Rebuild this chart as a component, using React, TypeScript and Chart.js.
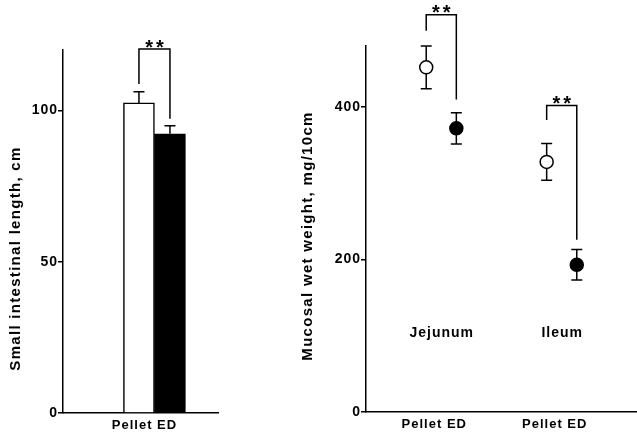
import React, { useEffect, useRef } from 'react';
import { Chart, registerables } from 'chart.js';

Chart.register(...registerables);

// ---------- data: left panel (small intestinal length) ----------
const dietGroups = ['Pellet', 'ED'];
const intestinalLength = [102.5, 92.3];
const intestinalLengthSem = [3.7, 2.7];
const lengthTicks = [0, 50, 100];
// significance bracket: [top, left leg end, right leg end] (cm)
const lengthBracket = [120.3, 108.8, 97.3];

// ---------- data: right panel (mucosal wet weight) ----------
const segments = ['Jejunum', 'Ileum'];
const pelletMucosalWeight = [452, 328];
const pelletMucosalSem = [28, 24];
const edMucosalWeight = [372, 193];
const edMucosalSem = [20.5, 20];
const mucosalTicks = [0, 200, 400];
// brackets per segment: [top, left leg end, right leg end] (mg/10cm)
const jejunumBracket = [521, 500, 410];
const ileumBracket = [402, 383, 226];
const segmentBrackets = [jejunumBracket, ileumBracket];
const segmentLabelLevel = 103;

const FONT = '"Liberation Sans", Arial, Helvetica, sans-serif';
const tickFont = { family: FONT, size: 14, weight: 'bold' as const };

function spacingPlugin(spacing: string) {
  return {
    id: 'letterSpacing',
    afterInit(chart: any) { chart.ctx.letterSpacing = spacing; },
    beforeUpdate(chart: any) { chart.ctx.letterSpacing = spacing; },
    beforeDraw(chart: any) { chart.ctx.letterSpacing = spacing; },
  };
}

function yTitlePlugin(text: string, cx: number, cy: number) {
  return {
    id: 'yTitle',
    afterDraw(chart: any) {
      const ctx = chart.ctx;
      ctx.save();
      ctx.letterSpacing = '1.3px';
      ctx.translate(cx, cy);
      ctx.rotate(-Math.PI / 2);
      ctx.font = `bold 15px ${FONT}`;
      ctx.fillStyle = '#000';
      ctx.textAlign = 'center';
      ctx.textBaseline = 'middle';
      ctx.fillText(text, 0, 0);
      ctx.restore();
    },
  };
}

function drawBracket(chart: any, x1v: number, x2v: number, b: number[]) {
  const { ctx } = chart;
  const xs = chart.scales.x;
  const ys = chart.scales.y;
  const x1 = xs.getPixelForValue(x1v);
  const x2 = xs.getPixelForValue(x2v);
  const top = ys.getPixelForValue(b[0]);
  const l = ys.getPixelForValue(b[1]);
  const r = ys.getPixelForValue(b[2]);
  ctx.save();
  ctx.strokeStyle = '#000';
  ctx.lineWidth = 1.5;
  ctx.beginPath();
  ctx.moveTo(x1, l);
  ctx.lineTo(x1, top);
  ctx.lineTo(x2, top);
  ctx.lineTo(x2, r);
  ctx.stroke();
  ctx.letterSpacing = '3px';
  ctx.font = `bold 20px ${FONT}`;
  ctx.fillStyle = '#000';
  ctx.textAlign = 'center';
  ctx.textBaseline = 'alphabetic';
  ctx.fillText('**', (x1 + x2) / 2 + 1.5, top + 4.5);
  ctx.restore();
}

function errorBarPlugin(errors: number[][], upOnly: boolean, cap: number) {
  return {
    id: 'errorBars',
    beforeDatasetsDraw(chart: any) {
      const { ctx } = chart;
      const ys = chart.scales.y;
      chart.data.datasets.forEach((ds: any, di: number) => {
        const meta = chart.getDatasetMeta(di);
        const errs = errors[di];
        if (!errs) return;
        meta.data.forEach((el: any, i: number) => {
          const v = ds.data[i].y;
          const e = errs[i];
          const x = el.x;
          const yT = ys.getPixelForValue(v + e);
          const yB = ys.getPixelForValue(upOnly ? v : v - e);
          ctx.save();
          ctx.strokeStyle = '#000';
          ctx.lineWidth = 1.5;
          ctx.beginPath();
          ctx.moveTo(x, yT);
          ctx.lineTo(x, yB);
          ctx.moveTo(x - cap, yT);
          ctx.lineTo(x + cap, yT);
          if (!upOnly) {
            ctx.moveTo(x - cap, yB);
            ctx.lineTo(x + cap, yB);
          }
          ctx.stroke();
          ctx.restore();
        });
      });
    },
  };
}

function LengthChart() {
  const ref = useRef<HTMLCanvasElement>(null);
  useEffect(() => {
    if (!ref.current) return;
    const barX = dietGroups.map((_, i) => 2 + i);
    const chart = new Chart(ref.current, {
      type: 'bar',
      data: {
        datasets: [
          {
            label: 'Small intestinal length',
            data: dietGroups.map((_, i) => ({ x: barX[i], y: intestinalLength[i] })),
            backgroundColor: ['#ffffff', '#000000'],
            borderColor: '#000',
            borderWidth: 1.5,
            borderSkipped: 'bottom',
            barThickness: 31,
          } as any,
        ],
      },
      options: {
        responsive: false,
        maintainAspectRatio: false,
        animation: false,
        layout: { autoPadding: false, padding: { left: 0, top: 50, right: 22, bottom: 0 } },
        plugins: { legend: { display: false }, tooltip: { enabled: false } },
        scales: {
          x: {
            type: 'linear',
            offset: false,
            min: -0.45,
            max: 4.55,
            grid: { display: false, drawTicks: false },
            border: { display: true, color: '#000', width: 1.5 },
            ticks: {
              padding: 5,
              labelOffset: -10,
              autoSkip: false,
              maxRotation: 0,
              color: '#000',
              font: { family: FONT, size: 13, weight: 'bold' },
              callback: () => dietGroups.join(' '),
            },
            afterBuildTicks: (s: any) => {
              s.ticks = [{ value: (barX[0] + barX[barX.length - 1]) / 2 }];
            },
            afterFit: (s: any) => { s.height = 23; },
          },
          y: {
            min: 0,
            max: 120,
            grid: { drawOnChartArea: false, drawTicks: true, tickLength: 5, color: '#000', lineWidth: 1.5 },
            border: { display: true, color: '#000', width: 1.5 },
            ticks: { padding: 0, color: '#000', font: tickFont },
            afterBuildTicks: (s: any) => { s.ticks = lengthTicks.map((v) => ({ value: v })); },
            afterFit: (s: any) => { s.width = 63; },
          },
        },
      } as any,
      plugins: [
        spacingPlugin('1px'),
        errorBarPlugin([intestinalLengthSem], true, 5.5),
        {
          id: 'brackets',
          afterDatasetsDraw(c: any) { drawBracket(c, barX[0], barX[1], lengthBracket); },
        },
        yTitlePlugin('Small intestinal length, cm', 15.5, 258.5),
      ],
    });
    return () => chart.destroy();
  }, []);
  return (
    <canvas ref={ref} width={240} height={436} style={{ position: 'absolute', left: 0, top: 0 }} />
  );
}

function MucosaChart() {
  const ref = useRef<HTMLCanvasElement>(null);
  useEffect(() => {
    if (!ref.current) return;
    const pelletX = segments.map((_, i) => 2 + 4 * i);
    const edX = segments.map((_, i) => 3 + 4 * i);
    const centers = segments.map((_, i) => (pelletX[i] + edX[i]) / 2);
    const chart = new Chart(ref.current, {
      type: 'scatter',
      data: {
        datasets: [
          {
            label: 'Pellet',
            data: segments.map((_, i) => ({ x: pelletX[i], y: pelletMucosalWeight[i] })),
            backgroundColor: '#ffffff',
            borderColor: '#000',
            pointRadius: 6.5,
            pointBorderWidth: 1.5,
            pointBackgroundColor: '#ffffff',
            pointBorderColor: '#000',
          },
          {
            label: 'ED',
            data: segments.map((_, i) => ({ x: edX[i], y: edMucosalWeight[i] })),
            backgroundColor: '#000',
            borderColor: '#000',
            pointRadius: 6.5,
            pointBorderWidth: 1.5,
            pointBackgroundColor: '#000',
            pointBorderColor: '#000',
          },
        ],
      },
      options: {
        responsive: false,
        maintainAspectRatio: false,
        animation: false,
        clip: false,
        layout: { autoPadding: false, padding: { left: 0, top: 46, right: 0, bottom: 0 } },
        plugins: { legend: { display: false }, tooltip: { enabled: false } },
        scales: {
          x: {
            type: 'linear',
            offset: false,
            min: 0,
            max: 9,
            grid: { display: false, drawTicks: false },
            border: { display: true, color: '#000', width: 1.5 },
            ticks: {
              padding: 5,
              labelOffset: -7,
              autoSkip: false,
              maxRotation: 0,
              color: '#000',
              font: { family: FONT, size: 13, weight: 'bold' },
              callback: () => dietGroups.join(' '),
            },
            afterBuildTicks: (s: any) => { s.ticks = centers.map((v) => ({ value: v })); },
            afterFit: (s: any) => { s.height = 24; },
          },
          y: {
            min: 0,
            max: 480,
            grid: { drawOnChartArea: false, drawTicks: true, tickLength: 5, color: '#000', lineWidth: 1.5 },
            border: { display: true, color: '#000', width: 1.5 },
            ticks: { padding: 0, color: '#000', font: tickFont },
            afterBuildTicks: (s: any) => { s.ticks = mucosalTicks.map((v) => ({ value: v })); },
            afterFit: (s: any) => { s.width = 86; },
          },
        },
      } as any,
      plugins: [
        spacingPlugin('1px'),
        errorBarPlugin([pelletMucosalSem, edMucosalSem], false, 5.5),
        {
          id: 'brackets',
          afterDatasetsDraw(c: any) {
            segments.forEach((_, i) => drawBracket(c, pelletX[i], edX[i], segmentBrackets[i]));
            const ctx = c.ctx;
            ctx.save();
            ctx.letterSpacing = '1px';
            ctx.font = `bold 14px ${FONT}`;
            ctx.fillStyle = '#000';
            ctx.textAlign = 'center';
            ctx.textBaseline = 'middle';
            segments.forEach((name, i) => {
              ctx.fillText(name, c.scales.x.getPixelForValue(centers[i]) + 0.5, c.scales.y.getPixelForValue(segmentLabelLevel));
            });
            ctx.restore();
          },
        },
        yTitlePlugin('Mucosal wet weight, mg/10cm', 28, 236),
      ],
    });
    return () => chart.destroy();
  }, []);
  return (
    <canvas ref={ref} width={357} height={436} style={{ position: 'absolute', left: 280, top: 0 }} />
  );
}

export default function App() {
  return (
    <div style={{ position: 'fixed', left: 0, top: 0, width: 637, height: 436, background: '#fff', overflow: 'hidden' }}>
      <LengthChart />
      <MucosaChart />
    </div>
  );
}
